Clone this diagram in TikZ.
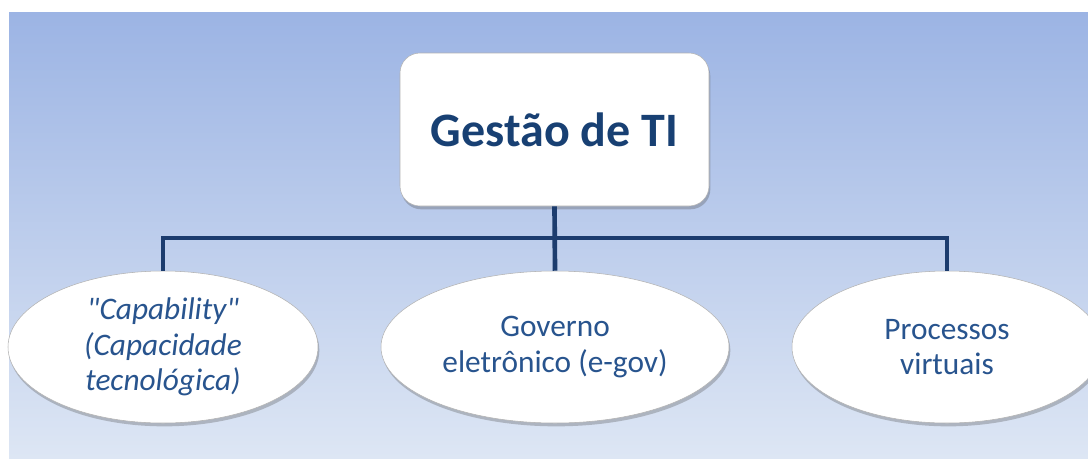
\documentclass[tikz,border=0pt]{standalone}
\usepackage{fontspec}
\setmainfont{Carlito}[Ligatures=TeXOff]
\usetikzlibrary{positioning,shapes.geometric,shadows}
\definecolor{titleblue}{RGB}{24,64,115}
\definecolor{textblue}{RGB}{40,84,142}
\definecolor{linkblue}{RGB}{28,60,110}
\definecolor{skytop}{RGB}{156,180,228}
\definecolor{skybottom}{RGB}{221,230,244}

\begin{document}
\begin{tikzpicture}[x=0.75pt,y=-0.75pt,
    softshadow/.style={drop shadow={shadow xshift=1pt, shadow yshift=-2.5pt, opacity=0.3, fill=black!70}},
    topic/.style={draw=gray!60, fill=white, rounded corners=15pt, softshadow,
        minimum width=231.75pt, minimum height=114.75pt,
        text=titleblue, font=\bfseries\fontsize{36}{42}\selectfont},
    subtopic/.style={ellipse, draw=gray!60, fill=white, softshadow, inner sep=0pt,
        minimum width=232.5pt, minimum height=114pt, align=center,
        text=textblue, font=\fontsize{23.5}{26.5}\selectfont},
    link/.style={draw=linkblue, line width=3.5pt}
]
\clip (0,0) rectangle (1088,458);
\shade[top color=skytop, bottom color=skybottom] (9,12) rectangle (1088,458);

\node[topic] (gestao) at (554.5,129.5) {Gestão de TI};
\node[subtopic] (capability) at (163,347) {\itshape "Capability"\\\itshape (Capacidade\\\itshape tecnológica)};
\node[subtopic, minimum width=261pt] (egov) at (555,347) {Governo\\eletrônico (e-gov)};
\node[subtopic] (processos) at (947,347) {Processos\\virtuais};

\coordinate (bus) at (555,238);
\draw[link] (capability.north) |- (bus) -| (processos.north);
\draw[link] (gestao.south) -- (egov.north);
\end{tikzpicture}
\end{document}
